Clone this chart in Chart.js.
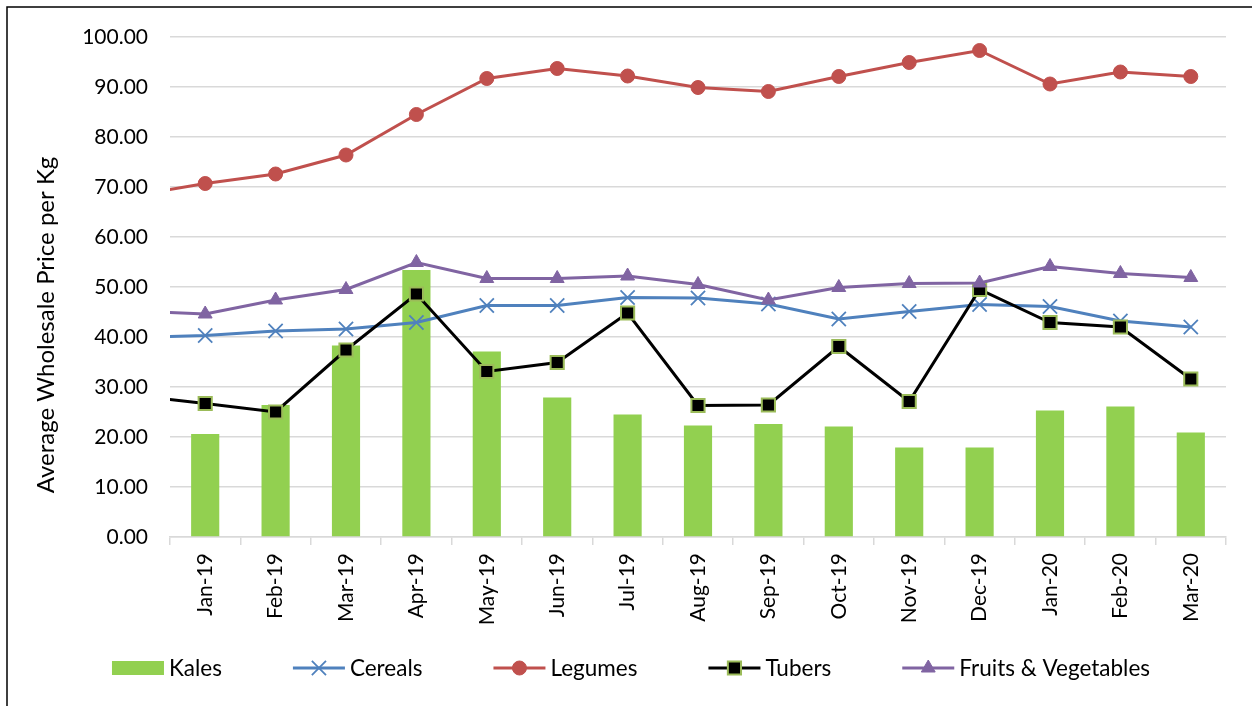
<!DOCTYPE html>
<html><head><meta charset="utf-8">
<script src="https://cdn.jsdelivr.net/npm/chart.js@4.4.1/dist/chart.umd.min.js"></script>
<style>html,body{margin:0;padding:0;background:#fff;overflow:hidden}#wrap{width:1252px;height:706px;position:relative}</style>
</head><body><div id="wrap"><canvas id="c" width="1252" height="706"></canvas></div>
<script>
// Categories (Dec-18 is only used so the lines run in from the left edge, as in the reference)
const categories = ['Dec-18','Jan-19','Feb-19','Mar-19','Apr-19','May-19','Jun-19','Jul-19','Aug-19','Sep-19','Oct-19','Nov-19','Dec-19','Jan-20','Feb-20','Mar-20'];
const kales     = [null, 20.6, 26.4, 38.3, 53.4, 37.1, 27.9, 24.5, 22.3, 22.6, 22.1, 17.9, 17.9, 25.3, 26.1, 20.9];
const cereals   = [39.9, 40.3, 41.2, 41.6, 42.9, 46.3, 46.3, 47.9, 47.8, 46.6, 43.6, 45.1, 46.5, 46.1, 43.2, 42.0];
const legumes   = [68.3, 70.7, 72.6, 76.4, 84.5, 91.7, 93.7, 92.2, 89.9, 89.1, 92.1, 94.9, 97.3, 90.6, 93.0, 92.1];
const tubers    = [28.3, 26.7, 25.0, 37.4, 48.6, 33.1, 34.9, 44.8, 26.3, 26.4, 38.1, 27.1, 49.5, 42.9, 42.0, 31.6];
const fruitsVeg = [45.2, 44.6, 47.4, 49.5, 54.9, 51.7, 51.7, 52.2, 50.5, 47.4, 49.9, 50.7, 50.8, 54.1, 52.7, 51.9];
const seriesNames = ['Kales','Cereals','Legumes','Tubers','Fruits & Vegetables'];
const yMin = 0, yMax = 100, yStep = 10;
const yTitle = 'Average Wholesale Price per Kg';
const firstShown = 'Jan-19';

const FONT = 'Lato, "Open Sans", sans-serif';
const COL = {kales:'#92D050', cereals:'#4F81BD', legumes:'#C0504D', tubers:'#000000', tubersEdge:'#9BBB59', fruits:'#8064A2', grid:'#D9D9D9'};

const clipLeft = {left:0, right:20, top:20, bottom:20};

const datasets = [
  {type:'bar', label:seriesNames[0], data:kales, backgroundColor:COL.kales, borderWidth:0,
   barPercentage:0.4, categoryPercentage:1.0, order:10},
  {type:'line', label:seriesNames[1], data:cereals, borderColor:COL.cereals, borderWidth:3,
   pointStyle:'crossRot', pointRadius:10, pointBorderColor:COL.cereals, pointBorderWidth:1.8,
   pointBackgroundColor:COL.cereals, tension:0, order:4, clip:clipLeft},
  {type:'line', label:seriesNames[2], data:legumes, borderColor:COL.legumes, borderWidth:3,
   pointStyle:'circle', pointRadius:7, pointBorderColor:COL.legumes, pointBorderWidth:1,
   pointBackgroundColor:COL.legumes, tension:0, order:3, clip:clipLeft},
  {type:'line', label:seriesNames[3], data:tubers, borderColor:COL.tubers, borderWidth:3,
   pointStyle:'rect', pointRadius:9.3, pointBorderColor:COL.tubersEdge, pointBorderWidth:2,
   pointBackgroundColor:COL.tubers, tension:0, order:2, clip:clipLeft},
  {type:'line', label:seriesNames[4], data:fruitsVeg, borderColor:COL.fruits, borderWidth:3,
   pointStyle:'triangle', pointRadius:8, pointBorderColor:COL.fruits, pointBorderWidth:1,
   pointBackgroundColor:COL.fruits, tension:0, order:1, clip:clipLeft}
];

const legendSpec = [
  {kind:'box', color:COL.kales},
  {kind:'line', color:COL.cereals, style:'crossRot', r:10, fill:COL.cereals, edge:COL.cereals, bw:1.8},
  {kind:'line', color:COL.legumes, style:'circle', r:7, fill:COL.legumes, edge:COL.legumes, bw:1},
  {kind:'line', color:COL.tubers, style:'rect', r:9.3, fill:COL.tubers, edge:COL.tubersEdge, bw:2},
  {kind:'line', color:COL.fruits, style:'triangle', r:8, fill:COL.fruits, edge:COL.fruits, bw:1}
];

const decorPlugin = {
  id:'decor',
  beforeDraw(chart){
    const ctx = chart.ctx;
    ctx.save();
    ctx.fillStyle = '#fff'; ctx.fillRect(0,0,chart.width,chart.height);
    ctx.strokeStyle = '#000'; ctx.lineWidth = 1.5;
    ctx.beginPath(); ctx.moveTo(7, 800); ctx.lineTo(7, 7); ctx.lineTo(1300, 7); ctx.stroke();
    ctx.restore();
  },
  afterDraw(chart){
    const ctx = chart.ctx;
    // y-axis title
    ctx.save();
    ctx.font = '24px ' + FONT;
    ctx.fillStyle = '#000';
    ctx.textAlign = 'center'; ctx.textBaseline = 'alphabetic';
    ctx.translate(54, 325); ctx.rotate(-Math.PI/2);
    ctx.fillText(yTitle, 0, 0);
    ctx.restore();
    // legend
    ctx.save();
    ctx.font = '22.5px ' + FONT;
    const sampleW = 52, gapText = 5, gapItem = 71, cy = 668;
    const widths = seriesNames.map(t => ctx.measureText(t).width);
    let total = 0;
    widths.forEach((w,i) => { total += sampleW + gapText + w + (i < widths.length-1 ? gapItem : 0); });
    let x = 631 - total/2;
    seriesNames.forEach((t,i) => {
      const s = legendSpec[i];
      if (s.kind === 'box') {
        ctx.fillStyle = s.color; ctx.fillRect(x, cy-7, sampleW, 14);
      } else {
        ctx.strokeStyle = s.color; ctx.lineWidth = 3;
        ctx.beginPath(); ctx.moveTo(x, cy); ctx.lineTo(x+sampleW, cy); ctx.stroke();
        ctx.fillStyle = s.fill; ctx.strokeStyle = s.edge; ctx.lineWidth = s.bw;
        Chart.helpers.drawPoint(ctx, {pointStyle:s.style, radius:s.r, rotation:0, borderWidth:s.bw}, x+sampleW/2, cy);
      }
      ctx.fillStyle = '#000'; ctx.textAlign = 'left'; ctx.textBaseline = 'middle';
      ctx.fillText(t, x + sampleW + gapText, cy + 1);
      x += sampleW + gapText + widths[i] + gapItem;
    });
    ctx.restore();
  }
};

new Chart(document.getElementById('c'), {
  data:{labels:categories, datasets},
  options:{
    responsive:false, animation:false, devicePixelRatio:1,
    layout:{padding:{left:20, right:26, top:37, bottom:69}},
    plugins:{legend:{display:false}, tooltip:{enabled:false}, title:{display:false}},
    scales:{
      x:{type:'category', min:firstShown, offset:true,
         grid:{display:true, offset:true, drawOnChartArea:false, drawTicks:true, tickLength:8, color:COL.grid, lineWidth:1.5},
         border:{display:true, color:COL.grid, width:1.5},
         ticks:{color:'#000', font:{family:FONT, size:21}, maxRotation:90, minRotation:90, padding:8, autoSkip:false},
         afterFit(s){ s.height = 100; }},
      y:{type:'linear', min:yMin, max:yMax,
         grid:{color:COL.grid, lineWidth:1.5, drawTicks:false},
         border:{display:false},
         ticks:{stepSize:yStep, color:'#000', font:{family:FONT, size:21}, padding:22,
                callback:(v)=>Number(v).toFixed(2)},
         afterFit(s){ s.width = 150; }}
    }
  },
  plugins:[decorPlugin]
});
</script></body></html>
